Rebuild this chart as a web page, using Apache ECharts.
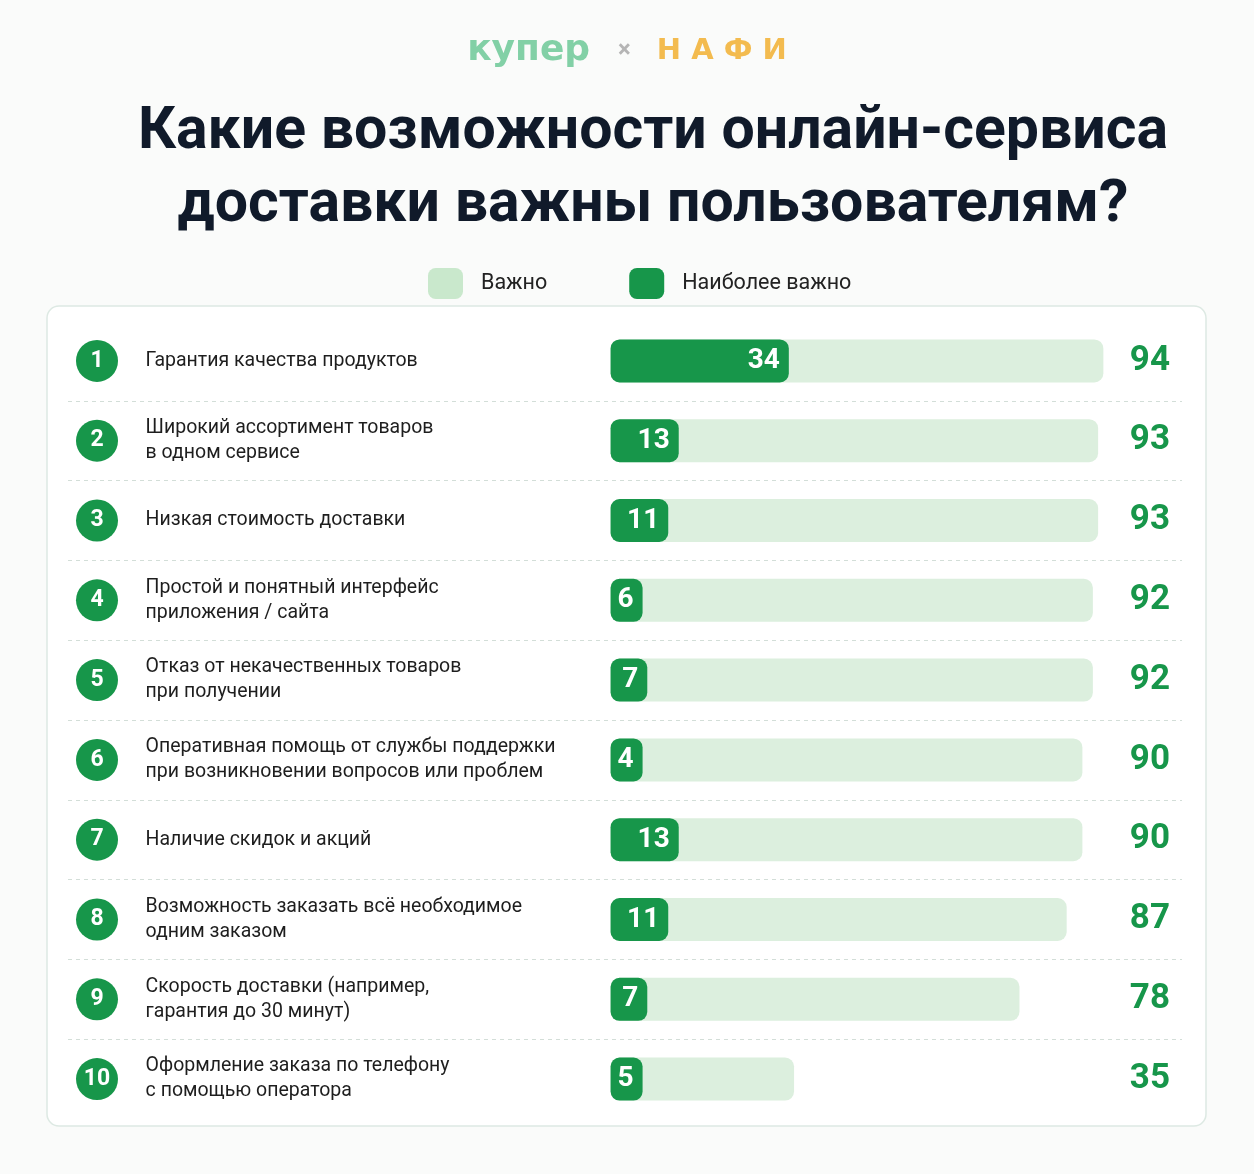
<!DOCTYPE html>
<html>
<head>
<meta charset="utf-8">
<script src="https://cdn.jsdelivr.net/npm/echarts@6/dist/echarts.min.js"></script>
<style>
  html, body { margin: 0; padding: 0; background: #fafbfa; }
  #chart { width: 1254px; height: 1174px; }
</style>
</head>
<body>
<div id="chart"></div>
<script>
    // данные опроса, % пользователей
    const ranks = ['1', '2', '3', '4', '5', '6', '7', '8', '9', '10'];
    const features = [
        'Гарантия качества продуктов',
        'Широкий ассортимент товаров\nв одном сервисе',
        'Низкая стоимость доставки',
        'Простой и понятный интерфейс\nприложения / сайта',
        'Отказ от некачественных товаров\nпри получении',
        'Оперативная помощь от службы поддержки\nпри возникновении вопросов или проблем',
        'Наличие скидок и акций',
        'Возможность заказать всё необходимое\nодним заказом',
        'Скорость доставки (например,\nгарантия до 30 минут)',
        'Оформление заказа по телефону\nс помощью оператора'
    ];
    const important = [94, 93, 93, 92, 92, 90, 90, 87, 78, 35];
    const mostImportant = [34, 13, 11, 6, 7, 4, 13, 11, 7, 5];

    const GREEN = '#17964a';
    const LIGHT = '#dcefde';
    const FONT = 'Roboto';

    const myChart = echarts.init(document.getElementById('chart'));

    const option = {
        backgroundColor: '#fafbfa',
        textStyle: { fontFamily: FONT },
        title: [
            {
                left: 'center',
                top: 28,
                text: '{k|купер}{x|×}{n|Н А Ф И}',
                textStyle: {
                    rich: {
                        k: { fontSize: 36, fontWeight: 'bold', color: '#82d0a6', fontFamily: 'DejaVu Sans' },
                        x: { fontSize: 24, color: '#b5b5b5', padding: [0, 26, 0, 28], fontFamily: FONT },
                        n: { fontSize: 29, fontWeight: 'bold', color: '#f3bb4f', fontFamily: 'DejaVu Sans' }
                    }
                }
            },
            {
                left: 648,
                top: 92,
                textAlign: 'center',
                text: 'Какие возможности онлайн-сервиса\nдоставки важны пользователям?',
                textStyle: {
                    fontSize: 59,
                    fontWeight: 'bold',
                    lineHeight: 73,
                    color: '#101a2a',
                    fontFamily: FONT
                }
            }
        ],
        legend: {
            top: 263,
            left: 423,
            itemWidth: 35,
            itemHeight: 31,
            itemGap: 82,
            icon: 'roundRect',
            selectedMode: false,
            textStyle: { fontSize: 21.5, color: '#222', padding: [0, 0, 0, 13] },
            data: [
                { name: 'Важно', itemStyle: { color: '#c9e8cc' } },
                { name: 'Наиболее важно', itemStyle: { color: GREEN } }
            ]
        },
        graphic: [
            {
                type: 'rect',
                z: -10,
                shape: { x: 47, y: 306, width: 1159, height: 820, r: 12 },
                style: { fill: '#ffffff', stroke: '#dde9e3', lineWidth: 1.5 }
            }
        ],
        grid: {
            left: 68,
            right: 72,
            top: 321,
            bottom: 55
        },
        xAxis: {
            type: 'value',
            min: -103.5,
            max: 109,
            show: false,
            splitLine: { show: false }
        },
        yAxis: [
            {
                type: 'category',
                inverse: true,
                position: 'left',
                data: ranks,
                axisLine: { show: false },
                axisTick: { show: false },
                axisLabel: {
                    inside: true,
                    margin: 8,
                    formatter: v => '{c|' + v + '}',
                    rich: {
                        c: {
                            width: 42,
                            height: 42,
                            lineHeight: 42,
                            borderRadius: 21,
                            align: 'center',
                            backgroundColor: GREEN,
                            color: '#fff',
                            fontSize: 23,
                            fontWeight: 'bold',
                            fontFamily: FONT
                        }
                    }
                },
                splitLine: {
                    show: true,
                    lineStyle: {
                        type: [4, 4],
                        width: 1,
                        color: ['transparent', '#d3ded8', '#d3ded8', '#d3ded8', '#d3ded8', '#d3ded8',
                            '#d3ded8', '#d3ded8', '#d3ded8', '#d3ded8', 'transparent']
                    }
                }
            },
            {
                type: 'category',
                inverse: true,
                position: 'right',
                data: important.map(String),
                axisLine: { show: false },
                axisTick: { show: false },
                axisLabel: {
                    inside: true,
                    margin: 12,
                    fontSize: 35,
                    fontWeight: 'bold',
                    color: GREEN,
                    fontFamily: FONT
                }
            }
        ],
        series: [
            {
                name: 'Важно',
                type: 'bar',
                yAxisIndex: 0,
                data: important,
                barWidth: 43,
                barGap: '-100%',
                silent: true,
                itemStyle: { color: LIGHT, borderRadius: 9 },
                label: {
                    show: true,
                    position: [-465, '50%'],
                    align: 'left',
                    verticalAlign: 'middle',
                    formatter: p => features[p.dataIndex],
                    fontSize: 19.5,
                    lineHeight: 25,
                    color: '#1e1e1e',
                    fontFamily: FONT
                }
            },
            {
                name: 'Наиболее важно',
                type: 'bar',
                yAxisIndex: 0,
                data: mostImportant,
                barWidth: 43,
                barMinHeight: 32,
                silent: true,
                itemStyle: { color: GREEN, borderRadius: 9 },
                label: {
                    show: true,
                    position: 'insideRight',
                    distance: 9,
                    fontSize: 28,
                    fontWeight: 'bold',
                    color: '#fff',
                    fontFamily: FONT
                }
            }
        ]
    };

    myChart.setOption(option);
</script>
</body>
</html>
